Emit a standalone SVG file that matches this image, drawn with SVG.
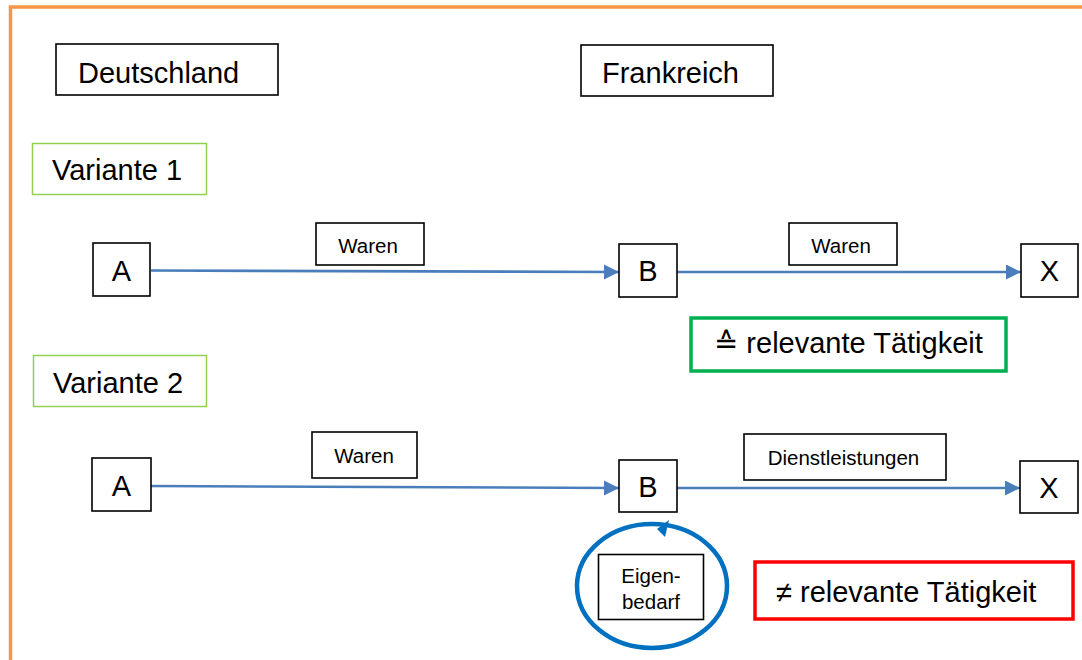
<svg xmlns="http://www.w3.org/2000/svg" width="1082" height="660" viewBox="0 0 1082 660">
<defs>
<style>
.box{fill:#fff;stroke:#000;stroke-width:1.6}
.var{fill:#fff;stroke:#92D050;stroke-width:1.5}
.t{font-family:"Liberation Sans",Arial,"DejaVu Sans",sans-serif;fill:#000}
.big{font-size:29px}
.lbl{font-size:20.5px}
.conn{stroke:#4A7EBB;stroke-width:2.6;fill:none;marker-end:url(#ah)}
</style>
<marker id="ah" markerUnits="userSpaceOnUse" markerWidth="16" markerHeight="16" refX="15" refY="7.5" orient="auto">
<path d="M0,0 L15,7.5 L0,15 Z" fill="#4A7EBB"/>
</marker>
</defs>
<rect width="1082" height="660" fill="#fff"/>
<path d="M10.5,660 V7 H1082" fill="none" stroke="#F79646" stroke-width="3.5"/>

<g id="deutschland"><rect class="box" x="56" y="44" width="222" height="51"/><text class="t big" x="78" y="83">Deutschland</text></g>
<g id="frankreich"><rect class="box" x="581" y="45" width="192" height="51"/><text class="t big" x="602" y="83">Frankreich</text></g>
<g id="variante1"><rect class="var" x="32.5" y="143.5" width="174" height="51"/><text class="t big" x="52" y="180">Variante 1</text></g>
<g id="variante2"><rect class="var" x="33.5" y="355.5" width="173" height="51"/><text class="t big" x="53" y="393">Variante 2</text></g>

<g id="connectors">
<path class="conn" d="M151,270.5 L619,272"/>
<path class="conn" d="M677,272 L1021,272"/>
<path class="conn" d="M151,486 L619,488"/>
<path class="conn" d="M677,488 L1020,488"/>
<ellipse cx="652" cy="586" rx="75" ry="62" fill="none" stroke="#0070C0" stroke-width="4.5"/>
<polygon points="657,529 669,520 665,537" fill="#0070C0"/>
</g>

<g id="a1"><rect class="box" x="93" y="243" width="57" height="53"/><text class="t big" x="121.5" y="281" text-anchor="middle">A</text></g>
<g id="waren1"><rect class="box" x="316" y="223" width="108" height="42"/><text class="t lbl" x="368" y="253" text-anchor="middle">Waren</text></g>
<g id="b1"><rect class="box" x="619" y="244" width="58" height="53"/><text class="t big" x="648" y="281" text-anchor="middle">B</text></g>
<g id="waren2"><rect class="box" x="789" y="223" width="108" height="42"/><text class="t lbl" x="841" y="253" text-anchor="middle">Waren</text></g>
<g id="x1"><rect class="box" x="1021" y="244" width="57" height="53"/><text class="t big" x="1049.5" y="281" text-anchor="middle">X</text></g>
<g id="relevant"><rect x="691" y="318" width="315" height="53" fill="#fff" stroke="#00B050" stroke-width="3.5"/><text class="t big" x="714" y="353">≙ relevante Tätigkeit</text></g>

<g id="a2"><rect class="box" x="92" y="458" width="59" height="53"/><text class="t big" x="121.5" y="496" text-anchor="middle">A</text></g>
<g id="waren3"><rect class="box" x="312" y="432" width="105" height="46"/><text class="t lbl" x="364" y="463" text-anchor="middle">Waren</text></g>
<g id="b2"><rect class="box" x="619" y="460" width="58" height="52"/><text class="t big" x="648" y="497" text-anchor="middle">B</text></g>
<g id="dienst"><rect class="box" x="744" y="434" width="202" height="46"/><text class="t lbl" x="843.5" y="465" text-anchor="middle">Dienstleistungen</text></g>
<g id="x2"><rect class="box" x="1020" y="461" width="58" height="52"/><text class="t big" x="1049" y="498" text-anchor="middle">X</text></g>
<g id="eigenbedarf"><rect class="box" x="598.5" y="554.5" width="105" height="65" stroke-width="1.3"/><text class="t lbl" x="651" y="583" text-anchor="middle">Eigen-</text><text class="t lbl" x="651" y="609" text-anchor="middle">bedarf</text></g>
<g id="nicht-relevant"><rect x="755" y="562" width="318" height="57" fill="#fff" stroke="#FF0000" stroke-width="3.5"/><text class="t big" x="776" y="602">≠ relevante Tätigkeit</text></g>
</svg>
